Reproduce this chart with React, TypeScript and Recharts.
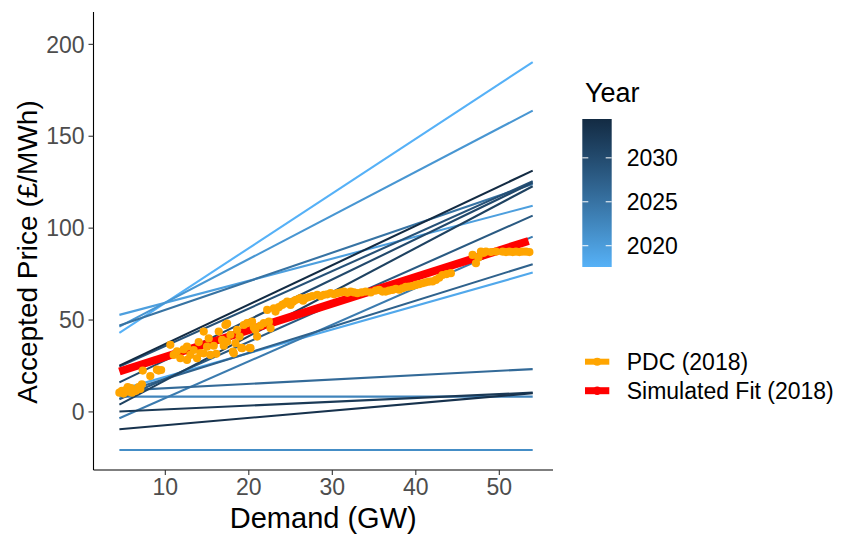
import React from "react";
import { ComposedChart, Line, Scatter, XAxis, YAxis, Label, Legend } from "recharts";

const FONT = "'Liberation Sans', Arial, Helvetica, sans-serif";

// one fitted supply line per year, read at the two ends of the demand range
const years = [2018, 2019, 2020, 2021, 2022, 2023, 2024, 2025, 2026, 2027, 2028, 2029, 2030, 2031, 2032, 2033, 2034];
const lowDemand = 4.5;
const highDemand = 54;
const priceAtLow = [43, 12, 52.8, 46.4, -20.7, 8.3, -3.4, 47, 11.6, 10.2, 6.9, 24.7, 16.1, 4, 0.2, -9.4, 25.2];
const priceAtHigh = [190.3, 75.8, 112.2, 163.9, -20.7, 8.3, 95.4, 124, 23.3, 80.4, 106.8, 125.5, 124.8, 122.8, 10.5, 10.2, 131.3];

// PDC (2018) observations
const pdcDemand = [
  4.5, 4.8, 5.0, 5.3, 5.6, 5.9, 6.2, 6.5, 6.8, 7.0, 7.2, 6.0, 5.5,
  7.3, 8.2, 9.0, 9.2, 9.5,
  10.6, 11, 11.4, 11.8, 12.2, 12.6, 12.6, 13, 13.4, 13.8, 14.0, 14.2, 14.6, 14.6, 15, 15.2, 15.4, 15.8,
  16.1, 16.4, 16.8, 17.0, 17.2, 17.4, 17.4, 17.8, 18.1, 18.2, 18.4, 18.6, 18.9, 19.1, 19.2, 19.4, 19.8,
  20.1, 20.2, 20.4, 20.6, 20.8, 21, 21.4, 21.8, 22.2, 22.4, 22.6, 23, 23.2, 23.6, 24, 24.3, 24.6, 25,
  25.3, 25.6, 26, 26.2, 26.5, 26.8, 27.2, 27.6, 28.2, 28.6, 29, 29.4, 29.8, 30.2, 30.6, 31, 31.4, 31.8,
  32.2, 32.6, 33, 33.5, 34, 34.6, 35.2, 35.6, 36, 36.4, 36.8, 37.2, 37.6, 38, 38.4, 38.8, 39.2, 39.6,
  40, 40.4, 40.8, 41.2, 41.6, 42, 42.4, 42.8, 43.2, 43.7, 44.2,
  46.8, 47.2, 47.5, 47.8, 48.1, 48.4, 49, 49.6, 50.4, 50.8, 51.2, 51.6, 52, 52.4, 52.8, 53.2, 53.6,
];
const pdcPrice = [
  10.5, 11.5, 10, 12, 11, 13, 12, 11.5, 13.5, 12.5, 15, 10.5, 13.5,
  22.5, 19.5, 23, 22.5, 22.8,
  36.5, 31, 33, 29.2, 34, 28.3, 35.5, 31, 33.7, 29.2, 38, 32, 43.7, 31.9, 35.5, 40, 31, 36,
  31.6, 43.7, 39.2, 36, 47.3, 38.2, 48, 42, 32.8, 31.9, 37.4, 44.6, 41, 34.8, 34.7, 47.3, 48.3,
  34.8, 34.7, 49.1, 46, 44.6, 41, 47, 48.3, 55.5, 49.1, 45.5, 56.4, 54.6, 57, 58.2, 59, 60, 58.2,
  60, 60.9, 61.5, 61.9, 60.5, 61.9, 62.5, 63, 63.7, 63, 63.7, 64, 64.6, 64, 64.6, 65, 65.5, 64.8,
  65.5, 65, 64.6, 65, 65.5, 65, 66, 66.4, 65.5, 65.5, 66, 66.4, 67, 66.5, 67.3, 68, 68.2, 68.5,
  69.1, 69.5, 70, 70.5, 70.9, 71, 71.8, 73, 74.5, 75, 75.5,
  85.4, 80.9, 84, 87.2, 86.5, 87.2, 87, 87.2, 87.2, 87, 87.2, 87, 87.2, 87, 87.2, 87.2, 87,
];

// Simulated fit (2018)
const fitDemand = [4.5, 53.5];
const fitPrice = [22, 93];

const xTicks = [10, 20, 30, 40, 50];
const yTicks = [0, 50, 100, 150, 200];
const yearTicks = [2020, 2025, 2030];

const yearMin = 2018;
const yearMax = 2034;

// ggplot-like gradient (#56B1F7 -> #132B43), interpolated in Lab
const toLin = (c: number) => {
  const v = c / 255;
  return v <= 0.04045 ? v / 12.92 : Math.pow((v + 0.055) / 1.055, 2.4);
};
const fromLin = (v: number) => {
  const c = v <= 0.0031308 ? 12.92 * v : 1.055 * Math.pow(v, 1 / 2.4) - 0.055;
  return Math.max(0, Math.min(255, Math.round(c * 255)));
};
const WHITE = [0.95047, 1, 1.08883];
const f = (t: number) => (t > 216 / 24389 ? Math.cbrt(t) : (24389 / 27 * t + 16) / 116);
const fInv = (t: number) => (t * t * t > 216 / 24389 ? t * t * t : (116 * t - 16) / (24389 / 27));
const hexToLab = (hex: string) => {
  const r = toLin(parseInt(hex.slice(1, 3), 16));
  const g = toLin(parseInt(hex.slice(3, 5), 16));
  const b = toLin(parseInt(hex.slice(5, 7), 16));
  const X = (0.4124 * r + 0.3576 * g + 0.1805 * b) / WHITE[0];
  const Y = (0.2126 * r + 0.7152 * g + 0.0722 * b) / WHITE[1];
  const Z = (0.0193 * r + 0.1192 * g + 0.9505 * b) / WHITE[2];
  return [116 * f(Y) - 16, 500 * (f(X) - f(Y)), 200 * (f(Y) - f(Z))];
};
const labToRgb = (lab: number[]) => {
  const fy = (lab[0] + 16) / 116;
  const fx = fy + lab[1] / 500;
  const fz = fy - lab[2] / 200;
  const X = fInv(fx) * WHITE[0];
  const Y = fInv(fy) * WHITE[1];
  const Z = fInv(fz) * WHITE[2];
  const r = 3.2406 * X - 1.5372 * Y - 0.4986 * Z;
  const g = -0.9689 * X + 1.8758 * Y + 0.0415 * Z;
  const b = 0.0557 * X - 0.204 * Y + 1.057 * Z;
  return `rgb(${fromLin(r)},${fromLin(g)},${fromLin(b)})`;
};
const LIGHT = hexToLab("#56B1F7");
const DARK = hexToLab("#132B43");

const yearColour = (year: number) => {
  const t = (year - yearMin) / (yearMax - yearMin);
  return labToRgb(LIGHT.map((l, i) => l + (DARK[i] - l) * t));
};

const yearLines = years.map((year, i) => ({
  year,
  points: [
    { x: lowDemand, y: priceAtLow[i] },
    { x: highDemand, y: priceAtHigh[i] },
  ],
}));

const pdcPoints = pdcDemand.map((x, i) => ({ x, y: pdcPrice[i] }));
const fitPoints = fitDemand.map((x, i) => ({ x, y: fitPrice[i] }));

const Dot = (props: any) => (
  <circle cx={props.cx} cy={props.cy} r={4.1} fill="#FFA500" />
);

// colour bar + key, drawn in legend box coords (box origin at 570,70)
const barTop = 49;
const barHeight = 148;
const barInset = 3.7;
const yearToBar = (year: number) =>
  barTop + barHeight - barInset - ((year - yearMin) / (yearMax - yearMin)) * (barHeight - 2 * barInset);

const gradStops = [0, 0.25, 0.5, 0.75, 1];

const YearLegend = () => (
  <svg width={273} height={340} style={{ fontFamily: FONT, display: "block" }}>
    <defs>
      <linearGradient id="yearGrad" x1="0" y1="0" x2="0" y2="1">
        {gradStops.map((s) => (
          <stop key={s} offset={`${s * 100}%`} stopColor={yearColour(yearMax - s * (yearMax - yearMin))} />
        ))}
      </linearGradient>
    </defs>
    <text x={15} y={31.5} fontSize={27} fill="#000">Year</text>
    <rect x={12.3} y={barTop} width={29.4} height={barHeight} fill="url(#yearGrad)" />
    {yearTicks.map((yr) => (
      <g key={yr}>
        <line x1={12.3} x2={18.3} y1={yearToBar(yr)} y2={yearToBar(yr)} stroke="#fff" strokeWidth={1} />
        <line x1={35.7} x2={41.7} y1={yearToBar(yr)} y2={yearToBar(yr)} stroke="#fff" strokeWidth={1} />
        <text x={56.7} y={yearToBar(yr)} dy="0.36em" fontSize={23} fill="#000">{yr}</text>
      </g>
    ))}
    <line x1={15} x2={39.3} y1={291.7} y2={291.7} stroke="#FFA500" strokeWidth={6} />
    <circle cx={27.2} cy={291.7} r={4} fill="#FFA500" />
    <text x={56.7} y={291.7} dy="0.36em" fontSize={23} fill="#000">PDC (2018)</text>
    <line x1={15} x2={39.3} y1={320.7} y2={320.7} stroke="#FF0000" strokeWidth={7} />
    <circle cx={27.2} cy={320.7} r={4.2} fill="#FF0000" />
    <text x={56.7} y={320.7} dy="0.36em" fontSize={23} fill="#000">Simulated Fit (2018)</text>
  </svg>
);

const YTitle = () => (
  <text
    x={27}
    y={252}
    transform="rotate(-90, 27, 252)"
    textAnchor="middle"
    dy="0.36em"
    fontSize={28}
    fill="#000"
    fontFamily={FONT}
  >
    Accepted Price (£/MWh)
  </text>
);

export default function App() {
  return (
    <div style={{ position: "absolute", left: 0, top: 0, background: "#fff", fontFamily: FONT }}>
      <ComposedChart width={843} height={535} margin={{ top: 12, right: 290, bottom: 0, left: 0 }}>
        <XAxis
          type="number"
          dataKey="x"
          domain={[1.4, 56.43]}
          ticks={xTicks}
          allowDataOverflow
          height={65}
          tickSize={5}
          tickMargin={4}
          axisLine={{ stroke: "#000", strokeWidth: 1.1 }}
          tickLine={{ stroke: "#333", strokeWidth: 1.1 }}
          tick={{ fontSize: 23, fill: "#4D4D4D", fontFamily: FONT }}
        >
          <Label
            value="Demand (GW)"
            position="insideBottom"
            offset={7}
            style={{ fontSize: 29, fill: "#000", fontFamily: FONT }}
          />
        </XAxis>
        <YAxis
          type="number"
          dataKey="y"
          domain={[-31.6, 217.6]}
          ticks={yTicks}
          allowDataOverflow
          width={93.5}
          tickSize={5}
          tickMargin={4}
          axisLine={{ stroke: "#000", strokeWidth: 1.1 }}
          tickLine={{ stroke: "#333", strokeWidth: 1.1 }}
          tick={{ fontSize: 23, fill: "#4D4D4D", fontFamily: FONT }}
        >
          <Label content={() => <YTitle />} />
        </YAxis>
        <Legend
          layout="horizontal"
          verticalAlign="middle"
          align="center"
          content={() => <YearLegend />}
          wrapperStyle={{ left: 570, top: 70, width: 273, height: 340 }}
        />

        {yearLines.map((l) => (
          <Line
            key={l.year}
            data={l.points}
            dataKey="y"
            stroke={yearColour(l.year)}
            strokeWidth={2.1}
            dot={false}
            activeDot={false}
            isAnimationActive={false}
          />
        ))}

        <Scatter data={pdcPoints} dataKey="y" shape={Dot} isAnimationActive={false} />

        <Line
          data={fitPoints}
          dataKey="y"
          stroke="#FF0000"
          strokeWidth={8}
          dot={false}
          activeDot={false}
          isAnimationActive={false}
        />
      </ComposedChart>
    </div>
  );
}
